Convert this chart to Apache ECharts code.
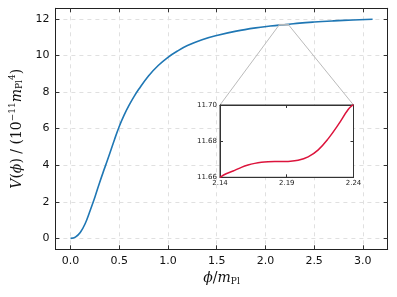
<!DOCTYPE html>
<html>
<head>
<meta charset="utf-8">
<script src="https://cdn.jsdelivr.net/npm/echarts@6/dist/echarts.min.js"></script>
<style>html,body{margin:0;padding:0;background:#fff;}#c{width:397px;height:297px;}</style>
</head>
<body>
<div id="c"></div>
<script>
// Main curve V(phi) in units of 1e-11 m_Pl^4
const phi = [0, 0.05, 0.1, 0.15, 0.2, 0.25, 0.3, 0.35, 0.4, 0.45, 0.5, 0.55, 0.6, 0.65, 0.7, 0.8, 0.9, 1.0, 1.1, 1.2, 1.35, 1.5, 1.7, 1.9, 2.05, 2.14, 2.18, 2.24, 2.35, 2.5, 2.7, 2.9, 3.1];
const V   = [0, 0.07, 0.32, 0.8, 1.5, 2.25, 3.07, 3.84, 4.6, 5.38, 6.12, 6.74, 7.27, 7.74, 8.15, 8.88, 9.45, 9.9, 10.25, 10.54, 10.86, 11.09, 11.33, 11.51, 11.61, 11.66, 11.669, 11.70, 11.77, 11.83, 11.89, 11.94, 11.98];
// Inset zoom data
const insetPhi = [2.14, 2.145, 2.151, 2.156, 2.161, 2.166, 2.171, 2.176, 2.181, 2.186, 2.191, 2.1985, 2.206, 2.2136, 2.2211, 2.2286, 2.236, 2.24];
const insetV   = [11.66, 11.6621, 11.6638, 11.6655, 11.6668, 11.6677, 11.6683, 11.6686, 11.6687, 11.6687, 11.6688, 11.6694, 11.6713, 11.6752, 11.6814, 11.6891, 11.6975, 11.7003];
// Ticks
const xTicks = [0, 0.5, 1.0, 1.5, 2.0, 2.5, 3.0];
const yTicks = [0, 2, 4, 6, 8, 10, 12];
const insetXTicks = [2.14, 2.19, 2.24];
const insetYTicks = [11.66, 11.68, 11.70];
const xRange = [-0.155, 3.255];
const yRange = [-0.599, 12.579];
const insetXRange = [2.14, 2.24];
const insetYRange = [11.66, 11.70];

const chart = echarts.init(document.getElementById('c'), null, {renderer: 'canvas'});
const sans = 'DejaVu Sans';
const serif = 'DejaVu Serif';
const rich = {
  i: {fontFamily: serif, fontStyle: 'italic', fontSize: 14, color: '#111'},
  n: {fontFamily: serif, fontSize: 14, color: '#111'},
  sup: {fontFamily: serif, fontSize: 9, color: '#111', padding: [0, 0, 9, 0]},
  sub: {fontFamily: serif, fontSize: 9, color: '#111', padding: [6, 0, 0, 0]}
};
const tickStyle = {color: '#333', width: 1};
function mainX(pos, showLab) {
  return {
    type: 'value', gridIndex: 0, position: pos, min: xRange[0], max: xRange[1],
    axisLine: {show: true, onZero: false, lineStyle: {color: '#222', width: 1}},
    axisTick: {show: true, inside: true, length: 4, customValues: xTicks, lineStyle: tickStyle},
    axisLabel: {show: showLab, customValues: xTicks, formatter: v => v.toFixed(1), fontFamily: sans, fontSize: 11, color: '#111', margin: 6},
    splitLine: {show: showLab, lineStyle: {type: [4, 4], color: '#e0e0e0', width: 1}},
    name: showLab ? '{i|ϕ}{n|/}{i|m}{sub|Pl}' : '',
    nameLocation: 'middle', nameGap: 18,
    nameTextStyle: {rich: rich}
  };
}
function mainY(pos, showLab) {
  return {
    type: 'value', gridIndex: 0, position: pos, min: yRange[0], max: yRange[1],
    axisLine: {show: true, onZero: false, lineStyle: {color: '#222', width: 1}},
    axisTick: {show: true, inside: true, length: 4, customValues: yTicks, lineStyle: tickStyle},
    axisLabel: {show: showLab, customValues: yTicks, formatter: v => String(Math.round(v)), fontFamily: sans, fontSize: 11, color: '#111', margin: 6},
    splitLine: {show: showLab, lineStyle: {type: [4, 4], color: '#e0e0e0', width: 1}},
    name: showLab ? '{i|V}{n|(}{i|ϕ}{n|) / (10}{sup|−11}{i|m}{sub|Pl}{sup|4}{n|)}' : '',
    nameLocation: 'middle', nameGap: 25,
    nameTextStyle: {rich: rich}
  };
}
function insetX(pos, showLab) {
  return {
    type: 'value', gridIndex: 1, position: pos, min: insetXRange[0], max: insetXRange[1], z: 11,
    axisLine: {show: true, onZero: false, lineStyle: {color: '#333', width: 1}},
    axisTick: {show: true, inside: true, length: 3, customValues: insetXTicks, lineStyle: tickStyle},
    axisLabel: {show: showLab, customValues: insetXTicks, formatter: v => v.toFixed(2), fontFamily: sans, fontSize: 7, color: '#222', margin: 2},
    splitLine: {show: false}
  };
}
function insetY(pos, showLab) {
  return {
    type: 'value', gridIndex: 1, position: pos, min: insetYRange[0], max: insetYRange[1], z: 11,
    axisLine: {show: true, onZero: false, lineStyle: {color: '#333', width: 1}},
    axisTick: {show: true, inside: true, length: 3, customValues: insetYTicks, lineStyle: tickStyle},
    axisLabel: {show: showLab, customValues: insetYTicks, formatter: v => v.toFixed(2), fontFamily: sans, fontSize: 7, color: '#222', margin: 3},
    splitLine: {show: false}
  };
}

chart.setOption({
  animation: false,
  backgroundColor: '#fff',
  grid: [
    {left: 51.3, top: 8.3, right: 9.3, bottom: 47.7, containLabel: false},
    {left: 220, top: 105, width: 133.5, height: 72.3, show: true, backgroundColor: '#fff', borderColor: '#333', borderWidth: 1, z: 10}
  ],
  xAxis: [mainX('bottom', true), mainX('top', false), insetX('bottom', true), insetX('top', false)],
  yAxis: [mainY('left', true), mainY('right', false), insetY('left', true), insetY('right', false)],
  series: [
    {type: 'line', xAxisIndex: 0, yAxisIndex: 0, data: phi.map((p, k) => [p, V[k]]), showSymbol: false, smooth: 0.4, lineStyle: {color: '#1f77b4', width: 1.6}, z: 3},
    {type: 'line', xAxisIndex: 2, yAxisIndex: 2, data: insetPhi.map((p, k) => [p, insetV[k]]), showSymbol: false, smooth: 0.4, clip: true, lineStyle: {color: '#dc143c', width: 1.5}, z: 12}
  ]
});

const a = chart.convertToPixel({seriesIndex: 0}, [insetXRange[0], insetYRange[0]]);
const b = chart.convertToPixel({seriesIndex: 0}, [insetXRange[1], insetYRange[0]]);
const at = chart.convertToPixel({seriesIndex: 0}, [insetXRange[0], insetYRange[1]]);
const c = chart.convertToPixel({seriesIndex: 1}, [insetXRange[0], insetYRange[1]]);
const d = chart.convertToPixel({seriesIndex: 1}, [insetXRange[1], insetYRange[1]]);
chart.setOption({
  graphic: [
    {type: 'line', shape: {x1: a[0], y1: a[1], x2: c[0], y2: c[1]}, style: {stroke: '#bbb', lineWidth: 1}, z: 5},
    {type: 'line', shape: {x1: b[0], y1: b[1], x2: d[0], y2: d[1]}, style: {stroke: '#bbb', lineWidth: 1}, z: 5},
    {type: 'rect', shape: {x: at[0], y: at[1], width: b[0] - a[0], height: a[1] - at[1]}, style: {fill: 'none', stroke: '#bbb', lineWidth: 1}, z: 4}
  ]
});
</script>
</body>
</html>
